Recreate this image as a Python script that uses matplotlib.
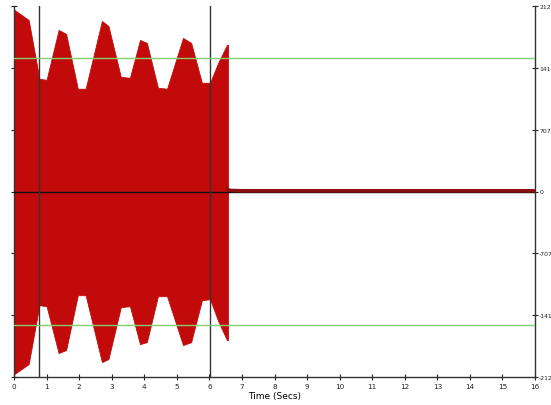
import numpy as np
import matplotlib
matplotlib.use("Agg")
from matplotlib import pyplot as plt

env_t = [0.0, 0.06, 0.45, 0.78, 1.0, 1.37, 1.6, 1.96, 2.2, 2.7, 2.9, 3.28, 3.56,
         3.87, 4.08, 4.42, 4.7, 5.19, 5.44, 5.77, 6.02, 6.27, 6.54, 6.57]
env_top = [2080, 2064, 1961, 1289, 1277, 1847, 1802, 1175, 1175, 1950, 1893, 1311, 1300,
           1733, 1699, 1186, 1175, 1756, 1699, 1243, 1243, 1471, 1676, 1676]
env_bot = [-2090, -2075, -1973, -1300, -1311, -1847, -1813, -1186, -1186, -1950, -1916, -1323, -1311,
           -1745, -1722, -1197, -1197, -1756, -1722, -1243, -1231, -1480, -1699, -1699]

# residual after the burst
tail_t = [6.57, 6.65, 7.0, 8.0, 9.0, 10.0, 11.0, 12.0, 13.0, 14.0, 15.0, 16.0]
tail_v = [20, 12, 8, 8, 8, 8, 8, 8, 8, 8, 8, 8]

markers_t = [0.78, 6.02]
limit = 1528
yticks = [2121, 1414, 707, 0, -707, -1414, -2121]

fig = plt.figure(figsize=(5.51, 4.06), dpi=100)
ax = fig.add_axes([14/551, 28/406, 521/551, 371/406])

ax.fill_between(env_t, env_bot, env_top, color='#c20a0a', linewidth=0.6, edgecolor='#c20a0a', zorder=2)
ax.axhline(0, color='#111111', lw=1, zorder=3)
ax.plot(tail_t, tail_v, color='#8c0e0e', lw=2.6, zorder=4)
for t in markers_t:
    ax.axvline(t, color='#333333', lw=1, zorder=5)
ax.axhline(limit, color='#7fd06f', lw=1, zorder=5)
ax.axhline(-limit, color='#7fd06f', lw=1, zorder=5)

ax.set_xlim(0, 16)
ax.set_ylim(-2121, 2121)
ax.set_xticks(range(17))
ax.set_yticks(yticks)
ax.set_yticklabels([str(v) for v in yticks])
ax.yaxis.tick_right()
ax.tick_params(axis='both', direction='inout', length=5, width=0.8, labelsize=5.2,
               colors='#222222', pad=2)
ax.tick_params(axis='y', left=True, right=True, labelleft=False, labelright=True,
               labelsize=4.4, pad=0.5)
ax.spines['top'].set_visible(False)
for s in ['left', 'right', 'bottom']:
    ax.spines[s].set_color('#333333')
    ax.spines[s].set_linewidth(1)
ax.set_xlabel('Time (Secs)', fontsize=6.5, labelpad=1.5)

fig.savefig('out.png', dpi=100)
